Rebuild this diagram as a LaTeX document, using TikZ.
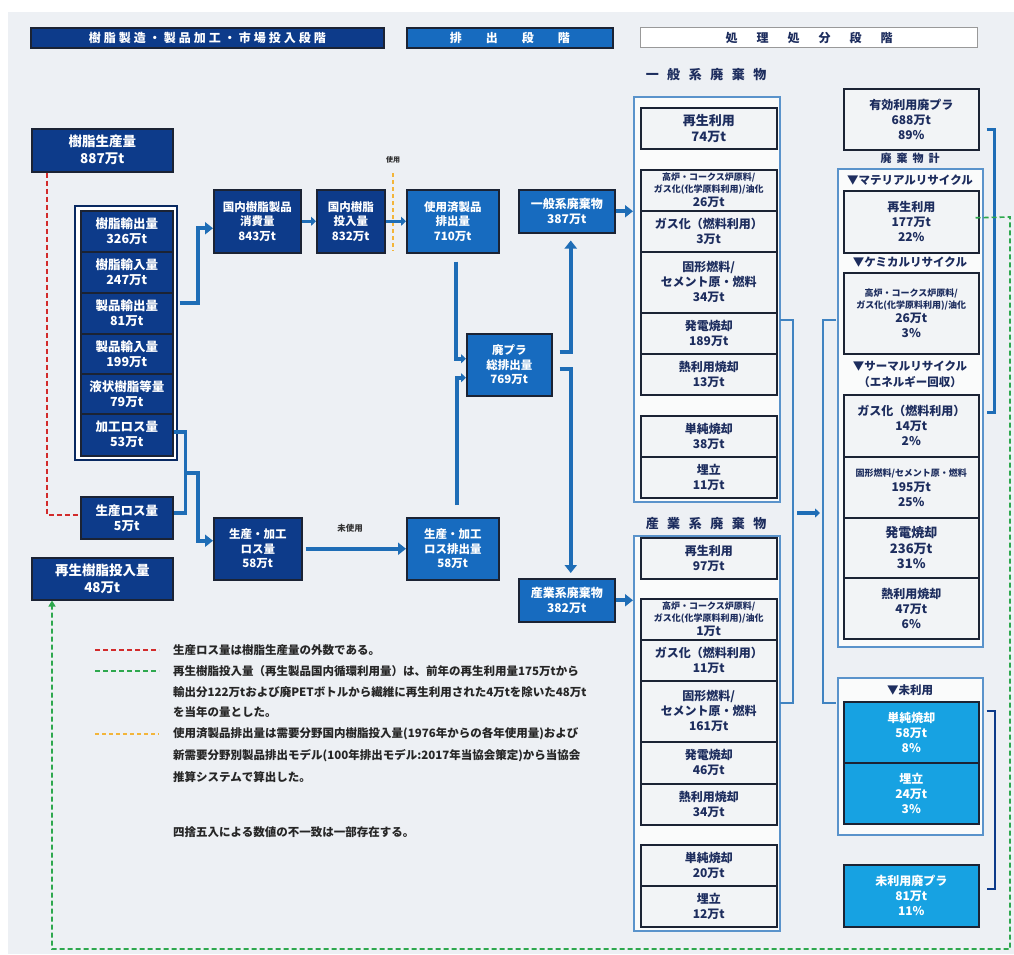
\documentclass[tikz,border=0pt]{standalone}
\usepackage{fontspec}
\setmainfont{Noto Sans CJK JP}
\usetikzlibrary{arrows.meta,calc}
\definecolor{bgc}{HTML}{EDF0F4}
\definecolor{navy}{HTML}{0D3B8A}
\definecolor{midb}{HTML}{176BBF}
\definecolor{cyanb}{HTML}{17A2E2}
\definecolor{bord}{HTML}{1B2334}
\definecolor{txt}{HTML}{1D2D5E}
\definecolor{grpc}{HTML}{5A93CB}
\definecolor{arrc}{HTML}{1E6DB6}
\definecolor{lbox}{HTML}{F2F4F6}
\definecolor{redd}{HTML}{D22B2B}
\definecolor{grnd}{HTML}{2EA84E}
\definecolor{yeld}{HTML}{F3B53A}
\newcommand\fsz[2]{\fontsize{#1}{#2}\selectfont}
\newcommand\bx[6]{\node[#1,minimum width=#4pt,minimum height=#5pt] (#2) at (#3) {#6};}
\newcommand\smt[1]{{\fsz{9}{11}#1}}
\begin{document}
\begin{tikzpicture}[x=1pt,y=-1pt,
 box/.style={draw=bord,line width=1.5pt,inner sep=0pt,align=center,anchor=north west,font=\bfseries\fsz{12}{15}},
 dk/.style={box,fill=navy,text=white},
 dkl/.style={dk,font=\bfseries\fsz{12.5}{15}},
 dkb/.style={dk,font=\bfseries\fsz{13.5}{17}},
 dkm/.style={dk,font=\bfseries\fsz{11.5}{14.5}},
 md/.style={box,fill=midb,text=white,font=\bfseries\fsz{11.5}{14.5}},
 mdg/.style={md,font=\bfseries\fsz{12}{15}},
 lt/.style={box,fill=lbox,text=txt},
 cy/.style={box,fill=cyanb,text=white},
 grpbox/.style={draw=grpc,line width=1.6pt,fill=white!60!lbox,inner sep=0pt,anchor=north west},
 flow/.style={draw=arrc,line width=4pt,-{Triangle[length=8pt,width=12pt]}},
 flows/.style={draw=arrc,line width=3.5pt,-{Triangle[length=5pt,width=9pt]}},
 pipe/.style={draw=arrc,line width=3.5pt},
 brk/.style={draw=arrc!85!white,line width=1.5pt},
 lbl/.style={font=\bfseries\fsz{12}{14},text=txt,inner sep=0pt},
 leg/.style={font=\bfseries\fsz{11.5}{13},text=black!85,anchor=west,inner sep=0pt},
 reddash/.style={draw=redd,line width=1.6pt,dash pattern=on 5pt off 3pt},
 grndash/.style={draw=grnd,line width=1.6pt,dash pattern=on 5pt off 3pt},
 yeldash/.style={draw=yeld,line width=1.6pt,dash pattern=on 4pt off 3pt},
]
\fill[white] (0,0) rectangle (1014,954);
\fill[bgc] (8,12) rectangle (1014,954);
\useasboundingbox (0,0) rectangle (1014,954);

% headers
\bx{dk,font=\bfseries\fsz{12}{14}\addfontfeature{LetterSpace=25}}{h1}{30,27}{353}{20}{樹脂製造・製品加工・市場投入段階}
\bx{md,font=\bfseries\fsz{12}{14}}{h2}{406,27}{206}{20}{排\hspace{24pt}出\hspace{24pt}段\hspace{24pt}階}
\bx{box,fill=white,draw=gray!80,line width=1.2pt,text=txt,font=\bfseries\fsz{12}{14}}{h3}{640,27}{337}{20}{処\hspace{19pt}理\hspace{19pt}処\hspace{19pt}分\hspace{19pt}段\hspace{19pt}階}

% left column
\bx{dkb}{prod}{31,128}{141}{43}{樹脂生産量\\887万t}
\node[draw=navy!70!black,line width=1.5pt,fill=white,minimum width=102pt,minimum height=254pt,anchor=north west,inner sep=0pt] (grpL) at (74,205) {};
\bx{dkl}{e1}{80,210}{92}{41}{樹脂輸出量\\326万t}
\bx{dkl}{e2}{80,251}{92}{41}{樹脂輸入量\\247万t}
\bx{dkl}{e3}{80,292}{92}{41}{製品輸出量\\81万t}
\bx{dkl}{e4}{80,333}{92}{40}{製品輸入量\\199万t}
\bx{dkl}{e5}{80,373}{92}{40}{液状樹脂等量\\79万t}
\bx{dkl}{e6}{80,413}{92}{42}{加工ロス量\\53万t}
\bx{dkl}{loss}{80,496}{92}{42}{生産ロス量\\5万t}
\bx{dkb}{recyc}{31,557}{141}{42}{再生樹脂投入量\\48万t}

% middle
\bx{dkm}{cons}{213,189}{87}{63}{国内樹脂製品\\消費量\\843万t}
\bx{dkm}{inp}{316,189}{68}{63}{国内樹脂\\投入量\\832万t}
\bx{md}{used}{406,189}{92}{63}{使用済製品\\排出量\\710万t}
\bx{mdg}{gen}{518,189}{96}{43}{一般系廃棄物\\387万t}
\bx{md}{tot}{466,333}{85}{62}{廃プラ\\総排出量\\769万t}
\bx{dkm}{plos}{213,517}{88}{62}{生産・加工\\ロス量\\58万t}
\bx{md}{plose}{406,517}{92}{62}{生産・加工\\ロス排出量\\58万t}
\bx{mdg}{ind}{518,578}{96}{43}{産業系廃棄物\\382万t}
\node[font=\bfseries\fsz{7}{8},text=black!80] (lUse) at (393,160) {使用};
\node[font=\bfseries\fsz{8.5}{10},text=black!80] (lUnused) at (350,528) {未使用};

% general waste column
\node[lbl,font=\bfseries\fsz{13}{15}] (lGen) at (706,75) {一\hspace{8.5pt}般\hspace{8.5pt}系\hspace{8.5pt}廃\hspace{8.5pt}棄\hspace{8.5pt}物};
\node[grpbox,minimum width=146pt,minimum height=405pt] (gout) at (633,96) {};
\bx{lt,font=\bfseries\fsz{13}{16}}{g1}{640,107}{136}{41}{再生利用\\74万t}
\bx{lt}{g2}{640,169}{136}{41}{\smt{高炉・コークス炉原料/}\\[-3pt]\smt{ガス化(化学原料利用)/油化}\\[-1pt]26万t}
\bx{lt}{g3}{640,210}{136}{41}{ガス化（燃料利用）\\3万t}
\bx{lt}{g4}{640,251}{136}{61}{固形燃料/\\セメント原・燃料\\34万t}
\bx{lt}{g5}{640,312}{136}{41}{発電焼却\\189万t}
\bx{lt}{g6}{640,353}{136}{41}{熱利用焼却\\13万t}
\bx{lt}{g7}{640,415}{136}{41}{単純焼却\\38万t}
\bx{lt}{g8}{640,456}{136}{41}{埋立\\11万t}

% industrial waste column
\node[lbl,font=\bfseries\fsz{13}{15}] (lInd) at (706,524) {産\hspace{8.5pt}業\hspace{8.5pt}系\hspace{8.5pt}廃\hspace{8.5pt}棄\hspace{8.5pt}物};
\node[grpbox,minimum width=146pt,minimum height=395pt] (iout) at (633,535) {};
\bx{lt}{i1}{640,537}{136}{41}{再生利用\\97万t}
\bx{lt}{i2}{640,598}{136}{41}{\smt{高炉・コークス炉原料/}\\[-3pt]\smt{ガス化(化学原料利用)/油化}\\[-1pt]1万t}
\bx{lt}{i3}{640,639}{136}{41}{ガス化（燃料利用）\\11万t}
\bx{lt}{i4}{640,680}{136}{61}{固形燃料/\\セメント原・燃料\\161万t}
\bx{lt}{i5}{640,741}{136}{42}{発電焼却\\46万t}
\bx{lt}{i6}{640,783}{136}{41}{熱利用焼却\\34万t}
\bx{lt}{i7}{640,844}{136}{41}{単純焼却\\20万t}
\bx{lt}{i8}{640,885}{136}{41}{埋立\\12万t}

% right column
\bx{lt}{eff}{843,88}{135}{61}{有効利用廃プラ\\688万t\\89\%}
\node[lbl,font=\bfseries\fsz{11}{13}] (lWaste) at (910,158) {廃\hspace{5pt}棄\hspace{5pt}物\hspace{5pt}計};
\node[grpbox,minimum width=145pt,minimum height=478pt] (rout) at (837,168) {};
\node[lbl,font=\bfseries\fsz{11.5}{13}] (lMat) at (910,180) {▼マテリアルリサイクル};
\bx{lt}{r1}{843,190}{135}{62}{再生利用\\177万t\\22\%}
\node[lbl,font=\bfseries\fsz{11.5}{13}] (lChem) at (910,262) {▼ケミカルリサイクル};
\bx{lt}{r2}{843,272}{135}{81}{\smt{高炉・コークス炉原料/}\\[-3pt]\smt{ガス化(化学原料利用)/油化}\\[-1pt]26万t\\3\%}
\node[lbl,font=\bfseries\fsz{11.5}{13}] (lTher) at (910,366) {▼サーマルリサイクル};
\node[lbl,font=\bfseries\fsz{11.5}{13}] (lTher2) at (910,382) {（エネルギー回収）};
\bx{lt}{r3}{843,394}{135}{62}{ガス化（燃料利用）\\14万t\\2\%}
\bx{lt}{r4}{843,456}{135}{61}{\smt{固形燃料/セメント原・燃料}\\195万t\\25\%}
\bx{lt,font=\bfseries\fsz{13}{15.5}}{r5}{843,517}{135}{60}{発電焼却\\236万t\\31\%}
\bx{lt}{r6}{843,577}{135}{61}{熱利用焼却\\47万t\\6\%}
\node[grpbox,minimum width=145pt,minimum height=157pt] (uout) at (837,677) {};
\node[lbl,font=\bfseries\fsz{11.5}{13}] (lUnu) at (910,690) {▼未利用};
\bx{cy}{u1}{843,701}{135}{61}{単純焼却\\58万t\\8\%}
\bx{cy}{u2}{843,762}{135}{61}{埋立\\24万t\\3\%}
\bx{cy}{unu}{843,864}{135}{62}{未利用廃プラ\\81万t\\11\%}

% connectors
\draw[flow] ($(grpL.east)+(2,-30)$) -- ++(18,0) |- ($(cons.west)+(0,7)$);
\coordinate (yT) at (393,173);
\coordinate (yB) at (393,251);
\draw[yeldash] (yT) -- (yB);
\draw[flows] (cons.east) -- (inp.west);
\draw[flows] (inp.east) -- (used.west);
\draw[flows] ($(used.south)+(3,8)$) |- ($(tot.west)+(0,-6)$);
\draw[flows] ($(plose.north)+(4,-12)$) |- ($(tot.west)+(0,13)$);
\draw[flow] ($(tot.east)+(7,-13)$) -| ($(gen.south)+(4,7)$);
\draw[flow] ($(tot.east)+(7,4)$) -| ($(ind.north)+(4,-5)$);
\draw[flow] (gen.east) -- (gen.east -| gout.west);
\draw[flow] (ind.east) -- (ind.east -| iout.west);
\draw[pipe] ($(e6.east)+(0,-3)$) -- ++(12,0) |- ($(loss.east)+(0,-5)$);
\coordinate (jn) at ($(e6.east)+(12,38)$);
\draw[flow] (jn) -- ++(12,0) |- ($(plos.west)+(0,-8)$);
\draw[flow] ($(plos.east)+(3,0)$) -- (plose.west);

% brackets
\coordinate (bl1) at (780,320);
\coordinate (bl2) at (780,703);
\draw[brk] (bl1) -- ++(13,0) |- (bl2);
\coordinate (br1) at (836,320);
\coordinate (br2) at (836,703);
\draw[brk] (br1) -- ++(-13,0) |- (br2);
\coordinate (am1) at (797,513);
\coordinate (am2) at (820,513);
\draw[flows] (am1) -- (am2);
\draw[draw=arrc,line width=3pt] ($(eff.east)+(7,10)$) -- ++(8,0) |- ($(r3.east)+(7,-13)$);
\draw[draw=navy,line width=2pt] ($(u1.east)+(7,-21)$) -- ++(8,0) |- ($(unu.east)+(7,-7)$);

% dashed feedback lines
\coordinate (gn1) at (1010,217);
\coordinate (gn2) at (1010,949);
\coordinate (gn3) at (52,949);
\draw[grndash,-{Triangle[length=6pt,width=7pt]}] ($(r1.east)+(-4,-4)$) -- (gn1) -- (gn2) -- (gn3) -- (gn3 |- recyc.south);
\draw[reddash] ($(prod.south west)+(16,0)$) |- ($(loss.west)+(0,-3)$);

% legend
\coordinate (lr1) at (95,650); \coordinate (lr2) at (159,650);
\draw[reddash] (lr1) -- (lr2);
\coordinate (lg1) at (95,671); \coordinate (lg2) at (159,671);
\draw[grndash] (lg1) -- (lg2);
\coordinate (ly1) at (95,734); \coordinate (ly2) at (159,734);
\draw[yeldash] (ly1) -- (ly2);
\node[leg] (t1) at (173,650) {生産ロス量は樹脂生産量の外数である。};
\node[leg] (t2) at (173,671) {再生樹脂投入量（再生製品国内循環利用量）は、前年の再生利用量175万tから};
\node[leg] (t3) at (173,692) {輸出分122万tおよび廃PETボトルから繊維に再生利用された4万tを除いた48万t};
\node[leg] (t4) at (173,712) {を当年の量とした。};
\node[leg] (t5) at (173,734) {使用済製品排出量は需要分野国内樹脂投入量(1976年からの各年使用量)および};
\node[leg] (t6) at (173,756) {新需要分野別製品排出モデル(100年排出モデル:2017年当協会策定)から当協会};
\node[leg] (t7) at (173,777) {推算システムで算出した。};
\node[leg] (t8) at (173,832) {四捨五入による数値の不一致は一部存在する。};
\end{tikzpicture}
\end{document}
